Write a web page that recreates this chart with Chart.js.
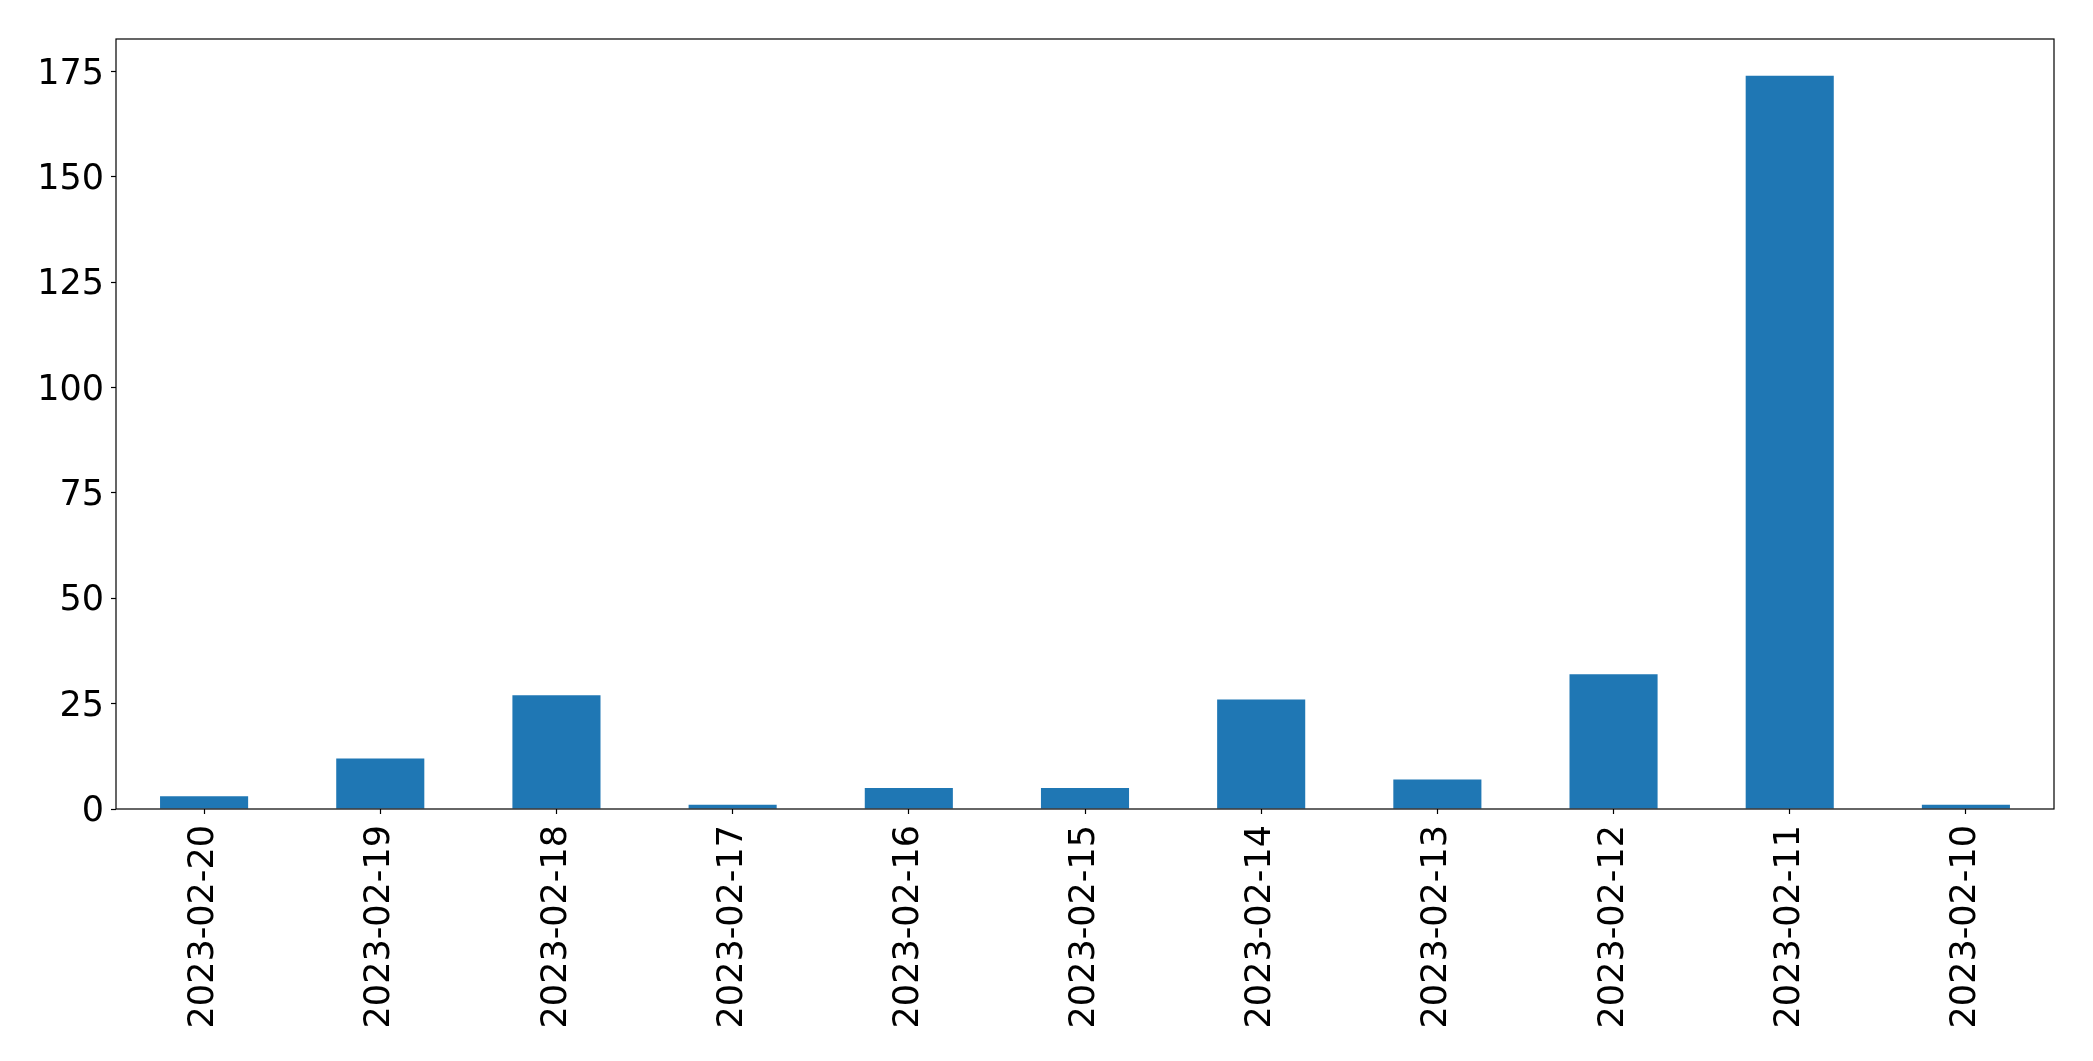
<!DOCTYPE html>
<html>
<head>
<meta charset="utf-8">
<script src="https://cdn.jsdelivr.net/npm/chart.js@4"></script>
<style>
  html, body { margin: 0; padding: 0; background: #fff; }
</style>
</head>
<body>
<canvas id="chart" width="2093" height="1061"></canvas>
<script>
// dates as shown on the x axis (newest first)
const dates = ["2023-02-20", "2023-02-19", "2023-02-18", "2023-02-17", "2023-02-16",
               "2023-02-15", "2023-02-14", "2023-02-13", "2023-02-12", "2023-02-11", "2023-02-10"];
const counts = [3, 12, 27, 1, 5, 5, 26, 7, 32, 174, 1];
const yTicks = [0, 25, 50, 75, 100, 125, 150, 175];

// black box round the plot area, like matplotlib's spines
const frame = {
    id: "frame",
    afterDraw(chart) {
        const a = chart.chartArea, ctx = chart.ctx;
        ctx.save();
        ctx.strokeStyle = "#000";
        ctx.lineWidth = 1.2;
        ctx.strokeRect(a.left, a.top, a.right - a.left, a.bottom - a.top);
        ctx.restore();
    }
};

const font = { family: "DejaVu Sans", size: 35 };

new Chart(document.getElementById("chart").getContext("2d"), {
    type: "bar",
    data: {
        labels: dates,
        datasets: [{
            data: counts,
            backgroundColor: "#1f77b4",
            borderWidth: 0,
            categoryPercentage: 1,
            barPercentage: 0.5
        }]
    },
    options: {
        responsive: false,
        animation: false,
        layout: { padding: { top: 39, right: 39, left: 0, bottom: 0 } },
        plugins: { legend: { display: false }, tooltip: { enabled: false } },
        scales: {
            x: {
                offset: true,
                grid: { display: true, drawOnChartArea: false, offset: false, tickLength: 5, tickColor: "#000", tickWidth: 1.2 },
                border: { display: false },
                ticks: { color: "#000", font: font, minRotation: 90, maxRotation: 90, autoSkip: false, padding: 11 },
                afterFit(scale) { scale.height = 252; }
            },
            y: {
                min: 0,
                max: 174 * 1.05,
                grid: { display: true, drawOnChartArea: false, tickLength: 5, tickColor: "#000", tickWidth: 1.2 },
                border: { display: false },
                ticks: { color: "#000", font: font, stepSize: 25, includeBounds: false, padding: 7, labelOffset: 3 },
                afterBuildTicks(scale) { scale.ticks = yTicks.map(v => ({ value: v })); },
                afterFit(scale) { scale.width = 116; }
            }
        }
    },
    plugins: [frame]
});
</script>
</body>
</html>
